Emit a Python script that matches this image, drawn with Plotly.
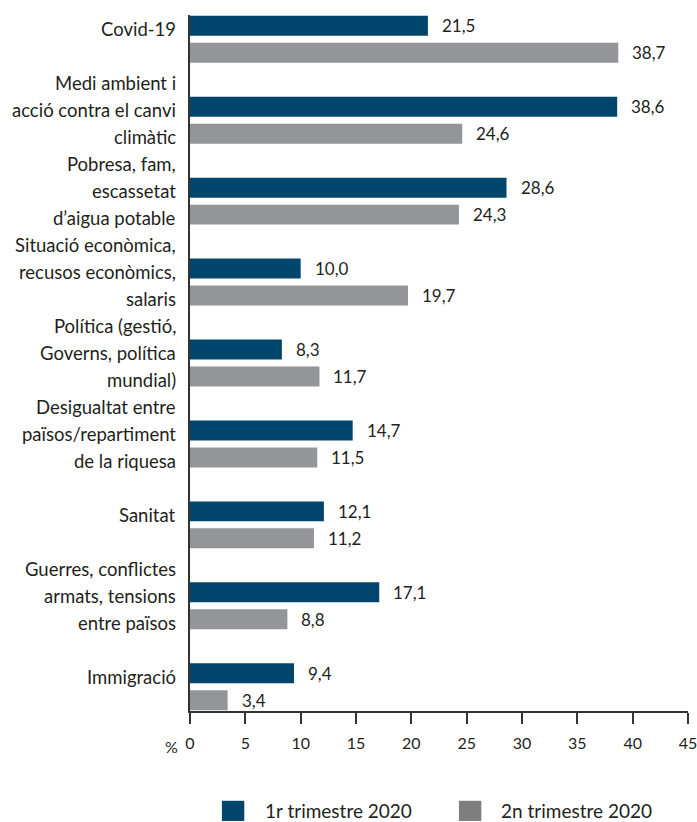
import plotly.graph_objects as go

categories = [
    "Covid-19",
    "Medi ambient i<br>acció contra el canvi<br>climàtic",
    "Pobresa, fam,<br>escassetat<br>d’aigua potable",
    "Situació econòmica,<br>recusos econòmics,<br>salaris",
    "Política (gestió,<br>Governs, política<br>mundial)",
    "Desigualtat entre<br>països/repartiment<br>de la riquesa",
    "Sanitat",
    "Guerres, conflictes<br>armats, tensions<br>entre països",
    "Immigració",
]
series_names = ["1r trimestre 2020", "2n trimestre 2020"]
q1_values = [21.5, 38.6, 28.6, 10.0, 8.3, 14.7, 12.1, 17.1, 9.4]
q2_values = [38.7, 24.6, 24.3, 19.7, 11.7, 11.5, 11.2, 8.8, 3.4]
x_ticks = [0, 5, 10, 15, 20, 25, 30, 35, 40, 45]

bar_colors = ["#00466c", "#939598"]
legend_colors = ["#00466c", "#7f7f7f"]
text_color = "#231f20"
FONT = "Lato"

fig = go.Figure()
for name, vals, col in zip(series_names, [q1_values, q2_values], bar_colors):
    fig.add_trace(go.Bar(
        y=categories, x=vals, orientation="h", name=name,
        marker=dict(color=col, line=dict(width=0)),
        showlegend=False, hoverinfo="x",
    ))

def fmt(v):
    return f"{v:.1f}".replace(".", ",")

annotations = []
# value labels
for vals, ys in zip([q1_values, q2_values], [13.5, -13.5]):
    for c, v in zip(categories, vals):
        annotations.append(dict(
            x=v, y=c, xref="x", yref="y", text=fmt(v), showarrow=False,
            xanchor="left", yanchor="middle", xshift=12, yshift=ys,
            font=dict(family=FONT, size=17, color=text_color),
        ))

# category labels (one line each, wider line spacing like the reference)
LINE = 27
for c in categories:
    lines = c.split("<br>")
    n = len(lines)
    for i, ln in enumerate(lines):
        annotations.append(dict(
            x=0, y=c, xref="paper", yref="y", text=ln, showarrow=False,
            xanchor="right", yanchor="middle", xshift=-12,
            yshift=10 + ((n - 1) / 2 - i) * LINE,
            font=dict(family=FONT, size=18.5, color=text_color),
        ))

# "%" label left of the 0 tick
annotations.append(dict(
    x=0, y=0, xref="paper", yref="paper", text="%", showarrow=False,
    xanchor="right", yanchor="middle", xshift=-10, yshift=-35,
    font=dict(family=FONT, size=16, color=text_color),
))

# custom legend
shapes = []
leg_pos = [(0.064, 0.147), (0.54, 0.62)]
for (sx, tx), name, col in zip(leg_pos, series_names, legend_colors):
    shapes.append(dict(type="rect", xref="paper", yref="paper",
                       x0=sx, x1=sx + 0.045, y0=-0.158, y1=-0.129,
                       fillcolor=col, line=dict(width=0)))
    annotations.append(dict(
        x=tx, y=-0.1435, xref="paper", yref="paper", text=name, showarrow=False,
        xanchor="left", yanchor="middle",
        font=dict(family=FONT, size=19, color=text_color),
    ))

fig.update_layout(
    width=697, height=822,
    margin=dict(l=190, r=9, t=15, b=111, autoexpand=False),
    paper_bgcolor="white", plot_bgcolor="white",
    barmode="group", bargap=0.333, bargroupgap=0.26,
    font=dict(family=FONT, size=17, color=text_color),
    xaxis=dict(
        range=[0, 45], tickvals=x_ticks, ticktext=[str(t) for t in x_ticks],
        showgrid=False, zeroline=False, showline=True, linecolor="#333333",
        linewidth=1.5, ticks="outside", ticklen=11, tickwidth=1.5,
        tickcolor="#333333", tickfont=dict(family=FONT, size=16, color=text_color),
        ticklabelstandoff=6, automargin=False, ticklabeloverflow="allow",
    ),
    yaxis=dict(
        type="category", categoryarray=categories, range=[8.3, -0.3],
        showgrid=False, zeroline=False, showline=True, linecolor="#333333",
        linewidth=1.5, ticks="", showticklabels=False, automargin=False,
    ),
    annotations=annotations, shapes=shapes,
)

fig.write_html(
    "out.html",
    config={"displayModeBar": False},
    post_script="document.body.style.margin='0';document.body.style.overflow='hidden';",
)
